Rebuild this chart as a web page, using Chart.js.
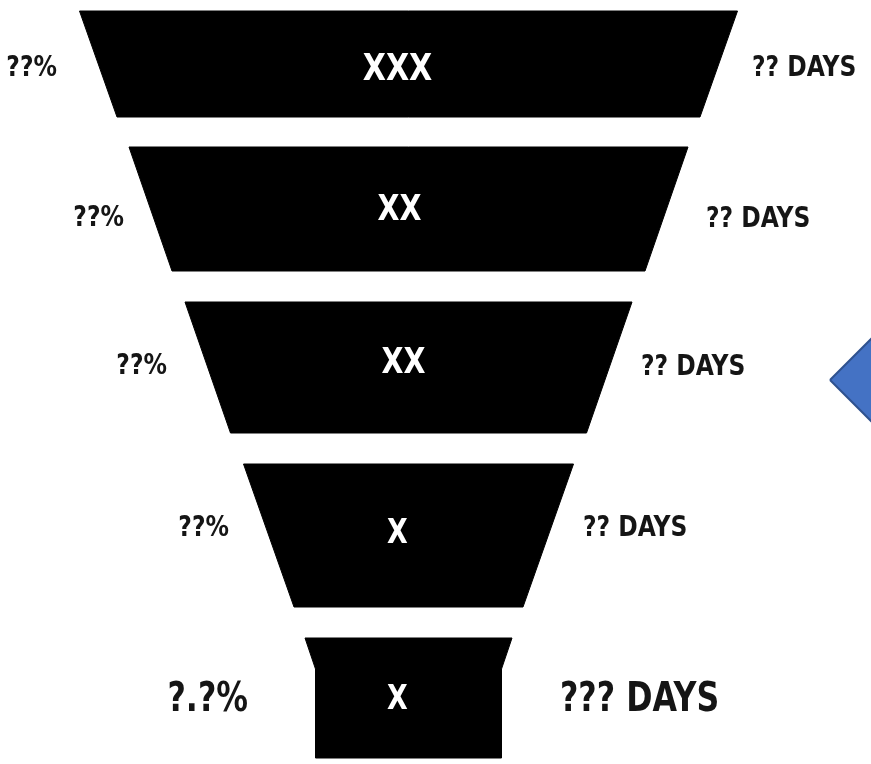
<!DOCTYPE html>
<html>
<head>
<meta charset="utf-8">
<title>Funnel</title>
<script src="https://cdn.jsdelivr.net/npm/chart.js@4/dist/chart.umd.min.js"></script>
<style>
  html, body { margin: 0; padding: 0; background: #ffffff; }
  #wrap { width: 871px; height: 764px; }
</style>
</head>
<body>
<div id="wrap"><canvas id="funnel" width="871" height="764"></canvas></div>
<script>
// Funnel stages, from the widest at the top to the narrowest at the bottom
const stageNames  = ['XXX', 'XX', 'XX', 'X', 'X'];
const stageShares = ['??%', '??%', '??%', '??%', '?.?%'];
const stageDays   = ['?? DAYS', '?? DAYS', '?? DAYS', '?? DAYS', '??? DAYS'];

// Width of each stage at its top edge and at the end of its taper
const topWidth    = [658, 559, 447, 330, 207];
const bottomWidth = [583, 473, 356, 229, 186];

// Depth bands of each stage on the vertical axis
const stageTop    = [11, 147, 302, 464, 638];
const taperEnd    = [117, 271, 433, 607, 669];
const stageBottom = [117, 271, 433, 607, 758];

// Builds the closed outline of one stage around the centre line (x = 0)
function stageOutline(i) {
  const t = topWidth[i] / 2, b = bottomWidth[i] / 2;
  const pts = [
    { x: -t, y: stageTop[i] },
    { x:  t, y: stageTop[i] },
    { x:  b, y: taperEnd[i] }
  ];
  if (stageBottom[i] > taperEnd[i]) {
    pts.push({ x: b, y: stageBottom[i] });
    pts.push({ x: -b, y: stageBottom[i] });
  }
  pts.push({ x: -b, y: taperEnd[i] });
  pts.push({ x: -t, y: stageTop[i] });
  return pts;
}

const stageSets = stageNames.map((name, i) => ({
  label: name,
  data: stageOutline(i),
  showLine: true,
  fill: 'shape',
  backgroundColor: '#000000',
  borderColor: '#000000',
  borderWidth: 1,
  pointRadius: 0,
  tension: 0
}));

// Side pointer sitting on the right edge of the canvas
const pointerCentre = { x: 462.5, y: 380 };
const pointerHalf = 41;
const pointerSet = {
  label: 'pointer',
  data: [
    { x: pointerCentre.x - pointerHalf, y: pointerCentre.y },
    { x: pointerCentre.x, y: pointerCentre.y - pointerHalf },
    { x: pointerCentre.x + pointerHalf, y: pointerCentre.y },
    { x: pointerCentre.x, y: pointerCentre.y + pointerHalf },
    { x: pointerCentre.x - pointerHalf, y: pointerCentre.y }
  ],
  showLine: true,
  fill: 'shape',
  backgroundColor: '#4472C4',
  borderColor: '#2F528F',
  borderWidth: 2,
  pointRadius: 0,
  tension: 0
};

// Text placement for the stage labels
const labelLayout = {
  font: "bold SIZEpx 'DejaVu Sans Condensed', 'DejaVu Sans', sans-serif",
  nameSize:  [38, 36, 36, 34, 34],
  sideSize:  [28, 28, 28, 28, 40],
  sideSqueeze: [0.93, 0.93, 0.93, 0.93, 0.88],
  nameSqueeze: 0.88,
  nameX:     [-11, -9, -5, -11, -11],
  nameY:     [66, 207, 360, 531, 697],
  shareRight:[57, 124, 167, 229, 248],
  shareY:    [66, 216, 364, 526, 697],
  daysLeft:  [752, 706, 641, 583, 560],
  daysY:     [66, 217, 365, 526, 697]
};

function drawText(ctx, text, px, py, align, size, squeeze, color) {
  ctx.save();
  ctx.font = labelLayout.font.replace('SIZE', size);
  ctx.fillStyle = color;
  ctx.textAlign = align;
  ctx.textBaseline = 'alphabetic';
  ctx.translate(px, py + size * 0.36);
  ctx.scale(squeeze, 1);
  ctx.fillText(text, 0, 0);
  ctx.restore();
}

const stageLabels = {
  id: 'stageLabels',
  afterDatasetsDraw(chart) {
    const { ctx, scales: { x, y } } = chart;
    const L = labelLayout;
    stageNames.forEach((name, i) => {
      drawText(ctx, name, x.getPixelForValue(L.nameX[i]), y.getPixelForValue(L.nameY[i]),
               'center', L.nameSize[i], L.nameSqueeze, '#ffffff');
      drawText(ctx, stageShares[i], L.shareRight[i], y.getPixelForValue(L.shareY[i]),
               'right', L.sideSize[i], L.sideSqueeze[i], '#151515');
      drawText(ctx, stageDays[i], L.daysLeft[i], y.getPixelForValue(L.daysY[i]),
               'left', L.sideSize[i], L.sideSqueeze[i], '#151515');
    });
  }
};

new Chart(document.getElementById('funnel'), {
  type: 'scatter',
  data: { datasets: [...stageSets, pointerSet] },
  options: {
    responsive: false,
    maintainAspectRatio: false,
    animation: false,
    layout: { padding: 0 },
    plugins: {
      legend: { display: false },
      tooltip: { enabled: false },
      title: { display: false }
    },
    scales: {
      x: { type: 'linear', min: -408.5, max: 462.5, display: false },
      y: { type: 'linear', min: 0, max: 764, reverse: true, display: false }
    }
  },
  plugins: [stageLabels]
});
</script>
</body>
</html>
